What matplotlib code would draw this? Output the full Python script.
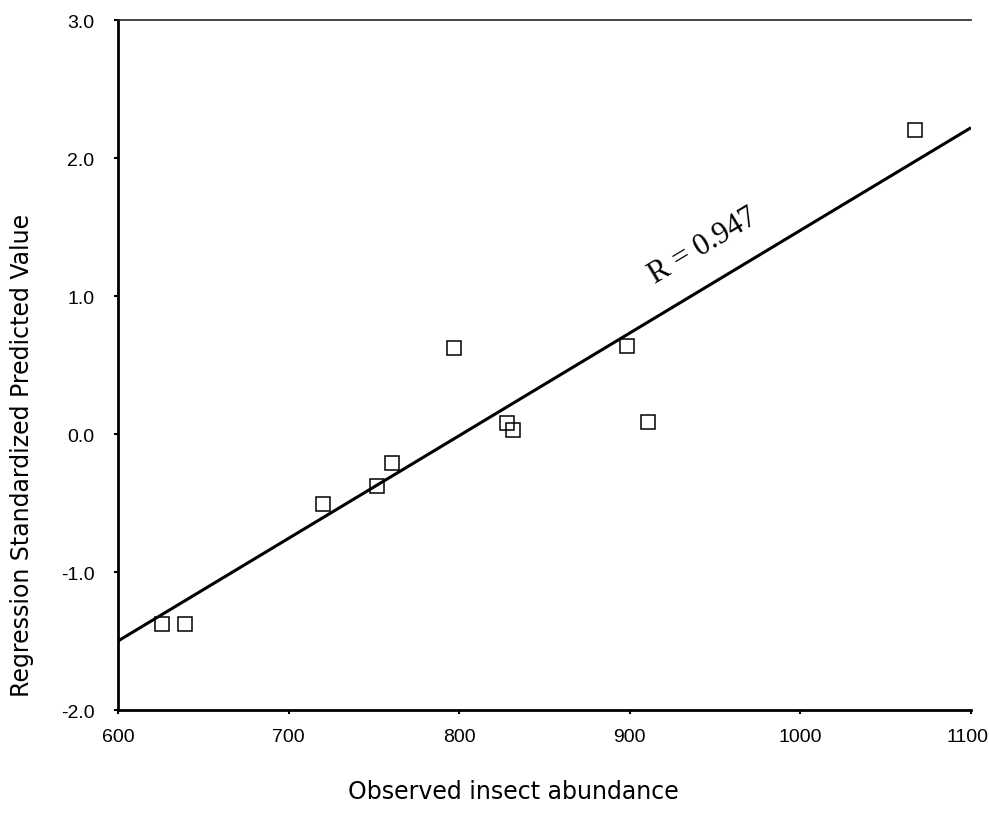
"""Observed insect abundance vs regression standardized predicted value."""

import matplotlib

matplotlib.use("Agg")
import matplotlib.pyplot as plt
from matplotlib.transforms import ScaledTranslation

OBSERVED = [625.8, 639.3, 720.3, 752.0, 760.8, 797.2, 828.3, 831.8, 898.1, 910.4, 1067.1]
PREDICTED = [-1.38, -1.38, -0.51, -0.38, -0.21, 0.62, 0.08, 0.03, 0.64, 0.09, 2.20]

# fitted line end points
LINE_X = [600, 1100]
LINE_Y = [-1.50, 2.22]

X_TICKS = [600, 700, 800, 900, 1000, 1100]
Y_TICKS = [-2.0, -1.0, 0.0, 1.0, 2.0, 3.0]
R_LABEL = "R = 0.947"


def main() -> None:
    plt.rcParams["font.family"] = ["Liberation Sans", "DejaVu Sans"]
    fig = plt.figure(figsize=(9.89, 8.28), dpi=100)
    ax = fig.add_axes([0.1193, 0.1413, 0.8625, 0.8333])

    ax.plot(LINE_X, LINE_Y, color="black", linewidth=2.2, solid_capstyle="butt", zorder=2)
    ax.plot(
        OBSERVED,
        PREDICTED,
        linestyle="none",
        marker="s",
        markersize=9.5,
        markerfacecolor="none",
        markeredgecolor="black",
        markeredgewidth=1.1,
        zorder=3,
    )

    ax.text(
        943,
        1.37,
        R_LABEL,
        family=["Liberation Serif", "DejaVu Serif"],
        fontsize=22,
        rotation=31,
        ha="center",
        va="center",
        rotation_mode="anchor",
    )

    ax.set_xlim(600, 1100)
    ax.set_ylim(-2.0, 3.0)
    ax.set_xticks(X_TICKS)
    ax.set_xticklabels([str(v) for v in X_TICKS])
    ax.set_yticks(Y_TICKS)
    ax.set_yticklabels([f"{v:.1f}" for v in Y_TICKS])
    ax.tick_params(axis="both", direction="out", length=3, width=1.5, labelsize=14)
    ax.tick_params(axis="x", pad=10)
    ax.tick_params(axis="y", pad=14)
    # keep the last x label inside the canvas
    last = ax.get_xticklabels()[-1]
    last.set_transform(last.get_transform() + ScaledTranslation(-4 / 100, 0, fig.dpi_scale_trans))

    ax.spines["right"].set_visible(False)
    ax.spines["left"].set_linewidth(2.0)
    ax.spines["bottom"].set_linewidth(2.0)
    ax.spines["top"].set_linewidth(1.2)
    ax.spines["top"].set_color("#222222")

    ax.set_xlabel("Observed insect abundance", fontsize=17, family="DejaVu Sans")
    ax.xaxis.set_label_coords(0.464, -0.100)
    ax.set_ylabel("Regression Standardized Predicted Value", fontsize=17, family="DejaVu Sans")
    ax.yaxis.set_label_coords(-0.098, 0.37)

    fig.savefig("out.png", dpi=100)
    plt.close(fig)


if __name__ == "__main__":
    main()
